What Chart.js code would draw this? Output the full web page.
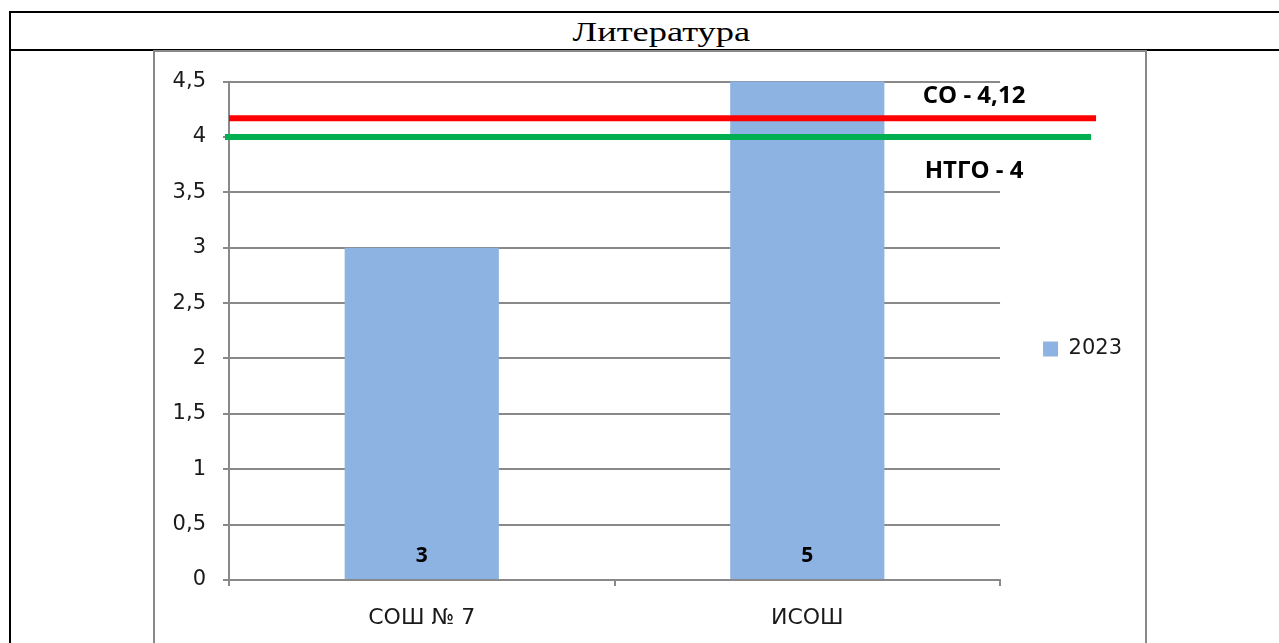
<!DOCTYPE html>
<html>
<head>
<meta charset="utf-8">
<title>Литература</title>
<script src="https://cdn.jsdelivr.net/npm/chart.js@4.4.0/dist/chart.umd.min.js"></script>
<style>
  html, body { margin: 0; padding: 0; background: #fff; overflow: hidden; }
  .frame { position: absolute; left: 9px; top: 11px; width: 1400px; height: 700px;
           border-top: 2px solid #000; border-left: 2px solid #000; }
  .row-line { position: absolute; left: 9px; top: 49px; width: 1400px; border-top: 2px solid #000; }
  .title { position: absolute; left: 11px; top: 13px; width: 1300px; height: 36px; line-height: 38px;
           text-align: center; font-family: "Liberation Serif", serif; font-size: 28px; color: #000; }
  .title span { display: inline-block; transform: scaleX(1.3); }
  .chart-box { position: absolute; left: 153px; top: 50px; width: 990px; height: 700px;
               border: 2px solid #898989; }
  .chart-wrap { position: absolute; left: 155px; top: 52px; width: 989px; height: 591px; }
</style>
</head>
<body>
<div class="frame"></div>
<div class="row-line"></div>
<div class="title"><span>Литература</span></div>
<div class="chart-box"></div>
<div class="chart-wrap"><canvas id="chart"></canvas></div>

<script>
// ---- data ----
const categories = ['СОШ № 7', 'ИСОШ'];
const seriesLabel = '2023';
const values2023 = [3, 5];

// y axis: 0 .. 4,5 step 0,5
const yMin = 0;
const yMax = 4.5;
const yStep = 0.5;

// reference lines (region / city averages) drawn over the bars
const refNames = ['СО - 4,12', 'НТГО - 4'];
const refValues = [4.17, 4];   // where the red/green lines sit in the picture
const refColors = ['#ff0000', '#00b050'];

// ---- styles ----
const gridColor = '#898989';
const barColor = '#8db3e2';
const textColor = '#1a1a1a';
const tickFamily = '"DejaVu Sans", sans-serif';

// value labels near the base of each bar
const barValueLabels = {
  id: 'barValueLabels',
  afterDatasetsDraw(chart) {
    const { ctx, scales: { y } } = chart;
    const meta = chart.getDatasetMeta(0);
    const base = y.getPixelForValue(0);
    ctx.save();
    ctx.font = 'bold 21px "Open Sans", sans-serif';
    ctx.fillStyle = '#000';
    ctx.textAlign = 'center';
    ctx.textBaseline = 'middle';
    meta.data.forEach((bar, i) => {
      ctx.fillText(String(chart.data.datasets[0].data[i]), bar.x, base - 24);
    });
    ctx.restore();
  }
};

// horizontal reference lines that run a little past the plot
const refLines = {
  id: 'refLines',
  afterDatasetsDraw(chart) {
    const { ctx, chartArea, scales: { y } } = chart;
    const ext = [96, 91];
    const startOff = [0, -4];
    const textOff = [-22, 34];
    ctx.save();
    refValues.forEach((v, i) => {
      const py = y.getPixelForValue(v);
      ctx.strokeStyle = refColors[i];
      ctx.lineWidth = 6;
      ctx.beginPath();
      ctx.moveTo(chartArea.left + startOff[i], py);
      ctx.lineTo(chartArea.right + ext[i], py);
      ctx.stroke();
    });
    ctx.font = 'bold 24px "Open Sans", sans-serif';
    ctx.fillStyle = '#000';
    ctx.textAlign = 'center';
    ctx.textBaseline = 'middle';
    refValues.forEach((v, i) => {
      const py = y.getPixelForValue(v);
      ctx.fillText(refNames[i], chartArea.right - 26, py + textOff[i]);
    });
    ctx.restore();
  }
};

// legend sits a bit higher than the default centring
const legendNudge = {
  id: 'legendNudge',
  afterLayout(chart) {
    chart.legend.top -= 13;
    chart.legend.bottom -= 13;
  }
};

const ctx = document.getElementById('chart').getContext('2d');
const chart = new Chart(ctx, {
  type: 'bar',
  data: {
    labels: categories,
    datasets: [{
      label: seriesLabel,
      data: values2023,
      backgroundColor: barColor,
      borderWidth: 0,
      barPercentage: 0.4,
      categoryPercentage: 1.0
    }]
  },
  options: {
    responsive: true,
    maintainAspectRatio: false,
    animation: false,
    layout: { padding: { top: 29, right: 12, bottom: 0, left: 0 } },
    plugins: {
      title: { display: false },
      tooltip: { enabled: false },
      legend: {
        position: 'right',
        labels: {
          boxWidth: 15,
          boxHeight: 15,
          padding: 43,
          color: textColor,
          font: { family: tickFamily, size: 21 }
        }
      }
    },
    scales: {
      x: {
        grid: { drawOnChartArea: false, drawTicks: true, tickLength: 6, color: gridColor, lineWidth: 2, offset: true },
        border: { color: gridColor, width: 2 },
        ticks: { padding: 19, color: textColor, font: { family: tickFamily, size: 22 } },
        afterFit(scale) { scale.height = 63; }
      },
      y: {
        min: yMin,
        max: yMax,
        grid: { color: gridColor, lineWidth: 2, tickLength: 6 },
        border: { color: gridColor, width: 2 },
        ticks: {
          stepSize: yStep,
          padding: 17,
          color: textColor,
          font: { family: tickFamily, size: 21 },
          callback: v => String(v).replace('.', ',')
        },
        afterFit(scale) { scale.width = 74; }
      }
    }
  },
  plugins: [barValueLabels, refLines, legendNudge]
});
</script>
</body>
</html>
